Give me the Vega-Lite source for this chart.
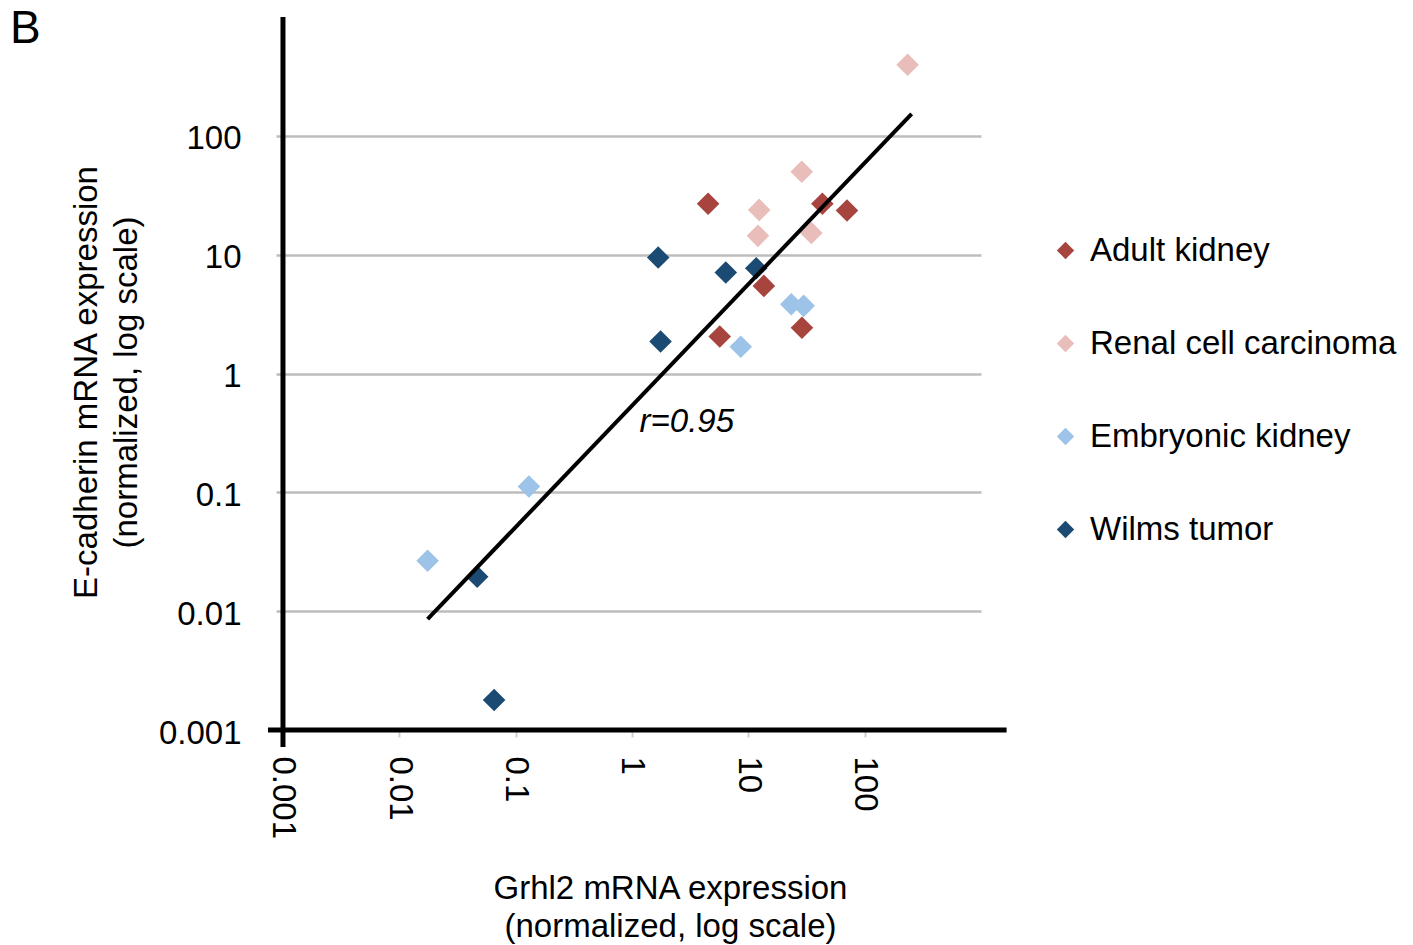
{
  "$schema": "https://vega.github.io/schema/vega-lite/v6.json",
  "width": 705,
  "height": 713,
  "autosize": {"type": "none"},
  "padding": {"left": 276, "top": 17, "right": 432, "bottom": 215},
  "background": "white",
  "config": {"view": {"stroke": null}, "font": "Liberation Sans"},
  "title": {"text": "B", "anchor": "start", "frame": "group", "fontSize": 46, "fontWeight": "normal", "color": "black", "dx": -266, "dy": 74, "offset": 0, "baseline": "alphabetic"},
  "datasets": {
    "points": [
      {"group": "Adult kidney", "grhl2": 4.51, "ecad": 26.8},
      {"group": "Adult kidney", "grhl2": 43.3, "ecad": 26.8},
      {"group": "Adult kidney", "grhl2": 70.5, "ecad": 23.5},
      {"group": "Adult kidney", "grhl2": 5.68, "ecad": 2.05},
      {"group": "Adult kidney", "grhl2": 28.9, "ecad": 2.43},
      {"group": "Renal cell carcinoma", "grhl2": 234, "ecad": 396},
      {"group": "Renal cell carcinoma", "grhl2": 28.8, "ecad": 49.8},
      {"group": "Renal cell carcinoma", "grhl2": 12.4, "ecad": 23.8},
      {"group": "Renal cell carcinoma", "grhl2": 12.1, "ecad": 14.4},
      {"group": "Renal cell carcinoma", "grhl2": 34.8, "ecad": 15.2},
      {"group": "Embryonic kidney", "grhl2": 23.4, "ecad": 3.83},
      {"group": "Embryonic kidney", "grhl2": 29.9, "ecad": 3.71},
      {"group": "Embryonic kidney", "grhl2": 8.61, "ecad": 1.68},
      {"group": "Embryonic kidney", "grhl2": 0.13, "ecad": 0.112},
      {"group": "Embryonic kidney", "grhl2": 0.0175, "ecad": 0.0266},
      {"group": "Wilms tumor", "grhl2": 1.68, "ecad": 9.46},
      {"group": "Wilms tumor", "grhl2": 6.4, "ecad": 7.07},
      {"group": "Wilms tumor", "grhl2": 11.7, "ecad": 7.69},
      {"group": "Wilms tumor", "grhl2": 1.76, "ecad": 1.86},
      {"group": "Wilms tumor", "grhl2": 0.0467, "ecad": 0.0195},
      {"group": "Wilms tumor", "grhl2": 0.0653, "ecad": 0.00179},
      {"group": "Adult kidney", "grhl2": 13.6, "ecad": 5.46}
    ],
    "fit": [
      {"grhl2": 0.0175, "ecad": 0.00859},
      {"grhl2": 253.5, "ecad": 153}
    ],
    "note": [
      {"grhl2": 2.96, "ecad": 0.392, "label": "r=0.95"}
    ]
  },
  "layer": [
    {
      "data": {"name": "points"},
      "mark": {"type": "point", "shape": "diamond", "filled": true, "size": 510, "opacity": 1},
      "encoding": {
        "x": {
          "field": "grhl2", "type": "quantitative",
          "scale": {"type": "log", "domain": [0.000871, 1000], "nice": false},
          "axis": {
            "values": [0.001, 0.01, 0.1, 1, 10, 100], "format": "~g",
            "domain": false, "grid": false,
            "ticks": true, "tickColor": "#D0D0D0", "tickSize": 7, "tickWidth": 2,
            "labelAngle": 90, "labelAlign": "left", "labelBaseline": "middle",
            "labelFontSize": 33, "labelColor": "black", "labelPadding": 19,
            "title": ["Grhl2 mRNA expression", "(normalized, log scale)"],
            "titleFontSize": 33, "titleFontWeight": "normal", "titleColor": "black",
            "titleLineHeight": 38, "titleX": 394, "titleY": 142,
            "titleAlign": "center", "titleBaseline": "top", "titleAngle": 0
          }
        },
        "y": {
          "field": "ecad", "type": "quantitative",
          "scale": {"type": "log", "domain": [0.001, 1000], "nice": false},
          "axis": {
            "values": [0.001, 0.01, 0.1, 1, 10, 100], "format": "~g",
            "domain": false, "ticks": false,
            "grid": true, "gridColor": "#BDBDBD", "gridWidth": 2.5,
            "labelFontSize": 33, "labelColor": "black", "labelPadding": 35, "labelOffset": 3,
            "title": ["E-cadherin mRNA expression", "(normalized, log scale)"],
            "titleFontSize": 33, "titleFontWeight": "normal", "titleColor": "black",
            "titleLineHeight": 40, "titleX": -173, "titleY": 365,
            "titleAngle": -90, "titleAlign": "center", "titleBaseline": "bottom"
          }
        },
        "color": {
          "field": "group", "type": "nominal",
          "scale": {
            "domain": ["Adult kidney", "Renal cell carcinoma", "Embryonic kidney", "Wilms tumor"],
            "range": ["#A7443E", "#E8BDBA", "#9DC3E8", "#1B4B72"]
          },
          "legend": {
            "orient": "none", "legendX": 773, "legendY": 217, "title": null, "padding": 0,
            "labelFontSize": 33, "labelColor": "black", "labelOffset": 8, "labelLimit": 0,
            "symbolSize": 300, "symbolType": "diamond", "symbolStrokeWidth": 0, "symbolOpacity": 1,
            "rowPadding": 59
          }
        }
      }
    },
    {
      "data": {"values": [{}]},
      "mark": {"type": "rule", "color": "black", "strokeWidth": 5},
      "encoding": {
        "x": {"datum": 0.001, "type": "quantitative", "scale": {"type": "log"}},
        "y": {"datum": 0.00072, "type": "quantitative", "scale": {"type": "log"}},
        "y2": {"datum": 1000}
      }
    },
    {
      "data": {"values": [{}]},
      "mark": {"type": "rule", "color": "black", "strokeWidth": 5},
      "encoding": {
        "y": {"datum": 0.001, "type": "quantitative", "scale": {"type": "log"}},
        "x": {"datum": 0.000743, "type": "quantitative", "scale": {"type": "log"}},
        "x2": {"datum": 1660}
      }
    },
    {
      "data": {"name": "fit"},
      "mark": {"type": "line", "color": "black", "strokeWidth": 4},
      "encoding": {
        "x": {"field": "grhl2", "type": "quantitative", "scale": {"type": "log"}},
        "y": {"field": "ecad", "type": "quantitative", "scale": {"type": "log"}}
      }
    },
    {
      "data": {"name": "note"},
      "mark": {"type": "text", "fontSize": 33, "fontStyle": "italic", "align": "center", "baseline": "middle", "color": "black"},
      "encoding": {
        "x": {"field": "grhl2", "type": "quantitative", "scale": {"type": "log"}},
        "y": {"field": "ecad", "type": "quantitative", "scale": {"type": "log"}},
        "text": {"field": "label"}
      }
    }
  ]
}
